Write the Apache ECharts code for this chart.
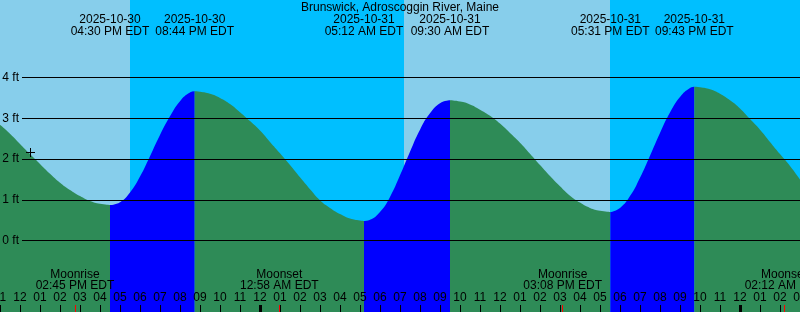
<!DOCTYPE html>
<html><head><meta charset="utf-8">
<script src="https://cdn.jsdelivr.net/npm/echarts@6/dist/echarts.min.js"></script>
<style>html,body{margin:0;padding:0;background:#fff}#c{width:800px;height:312px}</style>
</head><body><div id="c"></div>
<script>
// ---- data (hours relative to 2025-10-31 00:00 EDT) ----
const chartTitle = 'Brunswick, Adroscoggin River, Maine';
const hourMin = -13, hourMax = 27;
const tideHours = [-13,-12.5,-12,-11.5,-11,-10.5,-10,-9.5,-9,-8.5,-8,-7.5,
  -7,-6.5,-6,-5.5,-5,-4.5,-4,-3.5,-3.2667,
  -3,-2.5,-2,-1.5,-1,-0.5,0,0.5,1,1.5,2,2.5,3,3.5,4,4.5,5,5.2,
  5.5,6,6.5,7,7.5,8,8.5,9,9.5,
  10,10.5,11,11.5,12,12.5,13,13.5,14,14.5,15,15.5,16,16.5,17,17.5167,
  18,18.5,19,19.5,20,20.5,21,21.5,21.7167,
  22,22.5,23,23.5,24,24.5,25,25.5,26,26.5,27];
const tideFeet = [2.84,2.62,2.37,2.12,1.88,1.64,1.42,1.24,1.09,0.97,0.90,0.87,
  0.94,1.18,1.57,2.07,2.59,3.05,3.42,3.63,3.66,
  3.65,3.60,3.50,3.35,3.15,2.93,2.70,2.42,2.14,1.85,1.55,1.26,0.99,0.80,0.65,0.54,0.49,0.48,
  0.51,0.70,1.07,1.60,2.18,2.72,3.12,3.37,3.44,
  3.41,3.34,3.21,3.06,2.87,2.64,2.40,2.13,1.85,1.58,1.33,1.10,0.93,0.80,0.73,0.70,
  0.80,1.09,1.54,2.08,2.64,3.14,3.52,3.74,3.77,
  3.76,3.71,3.60,3.44,3.24,2.98,2.72,2.42,2.12,1.83,1.50];
const eventHours = [-7.5,-3.2667,5.2,9.5,17.5167,21.7167];
const eventTypes = ['Low','High','Low','High','Low','High'];
const eventDates = ['2025-10-30','2025-10-30','2025-10-31','2025-10-31','2025-10-31','2025-10-31'];
const eventTimes = ['04:30 PM EDT','08:44 PM EDT','05:12 AM EDT','09:30 AM EDT','05:31 PM EDT','09:43 PM EDT'];
const moonHours = [-9.25,0.9667,15.1333,26.2];
const moonNames = ['Moonrise','Moonset','Moonrise','Moonset'];
const moonTimes = ['02:45 PM EDT','12:58 AM EDT','03:08 PM EDT','02:12 AM EDT'];
const sunHours = [-6.5,7.2,17.5];
const sunTypes = ['set','rise','set'];
const feetTicks = [0,1,2,3,4];
const markHour = -11.475, markFeet = 2.16;

// ---- style / layout ----
const W = 800, H = 312, ZERO_Y = 240.5, FT_PX = 40.75;
const FONT = '"Liberation Sans", Arial, sans-serif';
const DAY = '#87ceeb', NIGHT = '#00bfff', RISE = '#0000ff', FALL = '#2e8b57';
const yMin = -(H - ZERO_Y) / FT_PX, yMax = ZERO_Y / FT_PX;

const tidePts = tideHours.map((h, i) => [h, tideFeet[i]]);
const bounds = [hourMin, ...eventHours, hourMax];
const tideSeries = [];
for (let i = 0; i < bounds.length - 1; i++) {
  const a = bounds[i], b = bounds[i + 1];
  const pts = tidePts.filter(p => p[0] >= a - 1e-6 && p[0] <= b + 1e-6);
  const rising = i < eventTypes.length ? eventTypes[i] === 'High' : eventTypes[eventTypes.length - 1] === 'Low';
  tideSeries.push({
    type: 'line', xAxisIndex: 0, yAxisIndex: 0, data: pts,
    smooth: 0.5, showSymbol: false, symbol: 'none',
    lineStyle: { width: 0, opacity: 0 },
    areaStyle: { color: rising ? RISE : FALL, opacity: 1, origin: 'start' },
    silent: true, z: 2
  });
}

const bg = [];
{ let prev = hourMin, isDay = sunTypes[0] === 'set';
  sunHours.forEach((h, i) => { bg.push([prev, h, isDay ? 1 : 0]); prev = h; isDay = sunTypes[i] === 'rise'; });
  bg.push([prev, hourMax, isDay ? 1 : 0]); }

const midnights = [];
for (let h = Math.ceil(hourMin / 24) * 24; h <= hourMax; h += 24) midnights.push([h, 0]);

function txt(t, x, y) {
  return { type: 'text', x: x, y: y, style: { text: t, fill: '#000', fontSize: 12, fontFamily: FONT, align: 'center', verticalAlign: 'middle' } };
}
function pad(n) { return (n < 10 ? '0' : '') + n; }

const option = {
  animation: false,
  title: { text: chartTitle, left: 'center', top: 1, padding: 0,
    textStyle: { fontSize: 12, fontWeight: 'normal', color: '#000', fontFamily: FONT, lineHeight: 13 } },
  grid: [
    { left: 0, right: 0, top: 0, bottom: 0, containLabel: false, outerBoundsMode: 'none' },
    { left: 22, right: 0, top: ZERO_Y - 4 * FT_PX, bottom: H - ZERO_Y, containLabel: false, outerBoundsMode: 'none' }
  ],
  xAxis: [
    { type: 'value', gridIndex: 0, min: hourMin, max: hourMax, interval: 1, z: 10, position: 'bottom',
      axisLine: { show: false, onZero: false }, splitLine: { show: false },
      axisTick: { show: true, inside: true, length: 7, lineStyle: { color: '#000', width: 1 } },
      axisLabel: { show: true, inside: true, margin: 8, interval: 0, color: '#000', fontSize: 12, fontFamily: FONT,
        showMinLabel: true, showMaxLabel: true,
        formatter: v => { const d = ((Math.round(v) % 24) + 24) % 24; const h12 = d % 12 === 0 ? 12 : d % 12; return pad(h12); } } },
    { type: 'value', gridIndex: 1, min: hourMin, max: hourMax, show: false, axisLine: { onZero: false } }
  ],
  yAxis: [
    { type: 'value', gridIndex: 0, min: yMin, max: yMax, show: false, splitLine: { show: false }, axisLine: { onZero: false } },
    { type: 'value', gridIndex: 1, min: feetTicks[0], max: feetTicks[feetTicks.length - 1], interval: 1, z: 10,
      axisLine: { show: false, onZero: false }, axisTick: { show: false },
      splitLine: { show: true, lineStyle: { color: '#000', width: 1 } },
      axisLabel: { show: true, margin: 3, color: '#000', fontSize: 12, fontFamily: FONT, formatter: '{value} ft' } }
  ],
  series: [
    { type: 'custom', xAxisIndex: 0, yAxisIndex: 0, data: bg, z: 1, silent: true,
      renderItem: (params, api) => {
        const p0 = api.coord([api.value(0), yMax]), p1 = api.coord([api.value(1), yMin]);
        return { type: 'rect', shape: { x: p0[0], y: p0[1], width: p1[0] - p0[0], height: p1[1] - p0[1] },
          style: { fill: api.value(2) ? DAY : NIGHT } };
      } },
    ...tideSeries,
    { type: 'custom', xAxisIndex: 0, yAxisIndex: 0, data: eventHours.map((h, i) => [h, i]), z: 20, silent: true,
      renderItem: (params, api) => {
        const x = api.coord([api.value(0), 0])[0]; const i = params.dataIndex;
        return { type: 'group', children: [txt(eventDates[i], x, 19.5), txt(eventTimes[i], x, 31.5)] };
      } },
    { type: 'custom', xAxisIndex: 0, yAxisIndex: 0, data: moonHours.map((h, i) => [h, i]), z: 20, silent: true,
      renderItem: (params, api) => {
        const x = api.coord([api.value(0), 0])[0]; const i = params.dataIndex;
        const tx = Math.floor(x);
        return { type: 'group', children: [
          txt(moonNames[i], x, 274.3), txt(moonTimes[i], x, 286),
          { type: 'rect', shape: { x: tx, y: H - 7, width: 1, height: 7 }, style: { fill: '#ff0000' } }
        ] };
      } },
    { type: 'custom', xAxisIndex: 0, yAxisIndex: 0, data: midnights, z: 20, silent: true,
      renderItem: (params, api) => {
        const x = Math.floor(api.coord([api.value(0), 0])[0]);
        return { type: 'rect', shape: { x: x - 1, y: H - 7, width: 3, height: 7 }, style: { fill: '#000' } };
      } },
    { type: 'custom', xAxisIndex: 0, yAxisIndex: 0, data: [[markHour, markFeet]], z: 20, silent: true,
      renderItem: (params, api) => {
        const p = api.coord([api.value(0), api.value(1)]);
        const cx = Math.floor(p[0]), cy = Math.floor(p[1]);
        return { type: 'group', children: [
          { type: 'rect', shape: { x: cx - 4, y: cy, width: 9, height: 1 }, style: { fill: '#000' } },
          { type: 'rect', shape: { x: cx, y: cy - 4, width: 1, height: 9 }, style: { fill: '#000' } }
        ] };
      } }
  ]
};
const chart = echarts.init(document.getElementById('c'), null, { renderer: 'canvas' });
chart.setOption(option);
</script></body></html>
